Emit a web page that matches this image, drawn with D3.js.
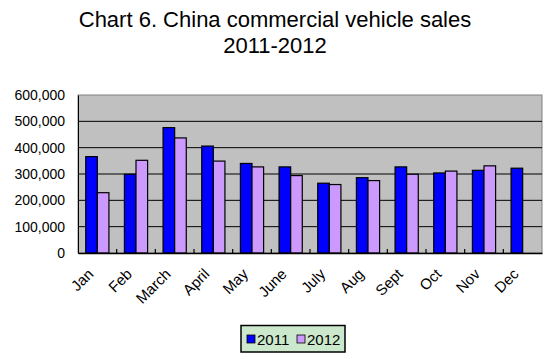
<!DOCTYPE html>
<html><head><meta charset="utf-8">
<script src="https://cdn.jsdelivr.net/npm/d3@7"></script>
<style>body{margin:0;background:#fff}svg{display:block}text{font-family:Arial,"Liberation Sans",sans-serif;fill:#000}</style>
</head><body><svg id="c" width="550" height="359"></svg>
<script>
const months = ["Jan","Feb","March","April","May","June","July","Aug","Sept","Oct","Nov","Dec"];
const series = ["2011","2012"];
const sales2011 = [366000,299000,476000,406000,340000,327000,265000,286000,327000,304000,314000,322000];
const sales2012 = [229000,352000,437000,349000,327000,294000,260000,275000,299000,311000,331000,null];
const yTicks = [0,100000,200000,300000,400000,500000,600000];
const colors = ["#0000FF","#CC99FF"];

const svg = d3.select("#c");
const m = {l:78, r:542, t:95, b:253};
const x = d3.scaleBand().domain(months).range([m.l,m.r]).paddingInner(0.4).paddingOuter(0.2);
const x0 = d3.scaleBand().domain(months).range([m.l,m.r]).padding(0);
const xs = d3.scaleBand().domain(series).range([0,x.bandwidth()]);
const y = d3.scaleLinear().domain([0,600000]).range([m.b,m.t]);

svg.append("g").selectAll("text").data(["Chart 6. China commercial vehicle sales","2011-2012"]).join("text")
  .attr("x",275).attr("y",(d,i)=>27+i*26).attr("text-anchor","middle").attr("font-size",22).text(d=>d);

svg.append("rect").attr("x",m.l).attr("y",m.t).attr("width",m.r-m.l).attr("height",m.b-m.t)
  .attr("fill","#C0C0C0").attr("stroke","#808080").attr("stroke-width",1);

svg.append("g").selectAll("line").data(yTicks.filter(d=>d>0 && d<600000)).join("line")
  .attr("x1",m.l).attr("x2",m.r).attr("y1",d=>y(d)).attr("y2",d=>y(d)).attr("stroke","#000").attr("stroke-width",1);

// y axis
const yAxis = svg.append("g").attr("transform",`translate(${m.l},0)`)
  .call(d3.axisLeft(y).tickValues(yTicks).tickFormat(d3.format(",")).tickSize(0).tickPadding(13));
yAxis.select(".domain").attr("stroke","#000");
yAxis.selectAll("text").attr("font-size",14).style("font-family","Arial, 'Liberation Sans', sans-serif");

// bars
const data = months.map((mo,i)=>({mo, vals:[sales2011[i],sales2012[i]]}));
const g = svg.append("g").selectAll("g").data(data).join("g").attr("transform",d=>`translate(${x(d.mo)},0)`);
g.selectAll("rect").data(d=>d.vals.map((v,j)=>({v,s:series[j],j})).filter(e=>e.v!=null)).join("rect")
  .attr("x",e=>xs(e.s)).attr("width",xs.bandwidth()).attr("y",e=>y(e.v)).attr("height",e=>m.b-y(e.v))
  .attr("fill",e=>colors[e.j]).attr("stroke","#000").attr("stroke-width",1.2);

// x axis
const xAxis = svg.append("g").attr("transform",`translate(0,${m.b})`)
  .call(d3.axisBottom(x0).tickSize(0).tickPadding(0).tickFormat(""));
xAxis.select(".domain").attr("stroke","#000").attr("stroke-width",1.5);
svg.append("g").selectAll("line").data(months.slice(1)).join("line")
  .attr("x1",d=>x0(d)).attr("x2",d=>x0(d)).attr("y1",m.b).attr("y2",m.b-4).attr("stroke","#000").attr("stroke-width",1.2);
svg.append("g").selectAll("text").data(months).join("text")
  .attr("transform",d=>`translate(${x0(d)+x0.bandwidth()/2-3},${m.b+22}) rotate(-45)`)
  .attr("text-anchor","end").attr("font-size",15).text(d=>d);

// legend
const lg = svg.append("g");
lg.append("rect").attr("x",241).attr("y",325.5).attr("width",104).attr("height",26.5)
  .attr("fill","#CCE8CC").attr("stroke","#000").attr("stroke-width",1.5);
const li = lg.selectAll("g").data(series).join("g").attr("transform",(d,i)=>`translate(${247+i*50},0)`);
li.append("rect").attr("x",0).attr("y",335).attr("width",8).attr("height",8).attr("fill",(d,i)=>colors[i]).attr("stroke","#000").attr("stroke-width",0.8);
li.append("text").attr("x",10).attr("y",344.5).attr("font-size",15).text(d=>d);
</script></body></html>
